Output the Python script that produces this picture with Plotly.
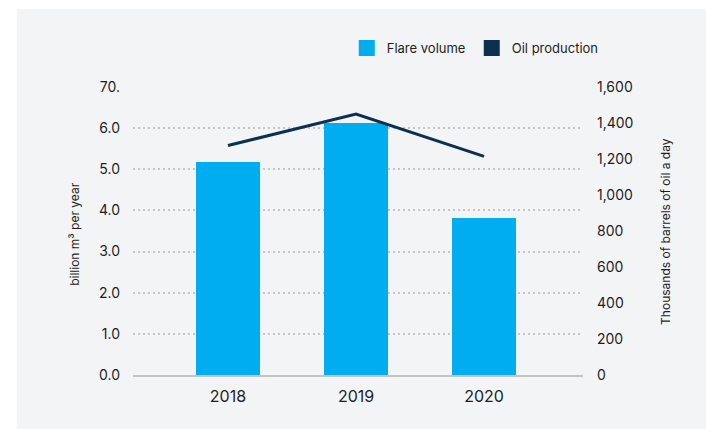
import plotly.graph_objects as go

# Annual data
years = [2018, 2019, 2020]
flare_volume = [5.18, 6.12, 3.82]          # billion m³ per year
oil_production = [1275, 1450, 1215]        # thousands of barrels per day

left_tickvals = [0, 1, 2, 3, 4, 5, 6, 7]
left_ticktext = ["0.0", "1.0", "2.0", "3.0", "4.0", "5.0", "6.0", "70."]
right_tickvals = [0, 200, 400, 600, 800, 1000, 1200, 1400, 1600]
right_ticktext = ["0", "200", "400", "600", "800", "1,000", "1,200", "1,400", "1,600"]

BAR_COLOR = "#00adee"
LINE_COLOR = "#0a3152"
PANEL = "#f3f4f6"
GRID = "#c4c6ca"
TEXT = "#1e1e1e"
FONT = "Inter, Lato, sans-serif"

fig = go.Figure()

fig.add_trace(go.Bar(
    x=years, y=flare_volume, width=0.5,
    marker=dict(color=BAR_COLOR, line=dict(width=0)),
    showlegend=False, name="Flare volume", yaxis="y",
))
fig.add_trace(go.Scatter(
    x=years, y=oil_production, mode="lines",
    line=dict(color=LINE_COLOR, width=3),
    showlegend=False, name="Oil production", yaxis="y2",
))

# Legend entries drawn as square swatches, one legend box each
for name, color, leg in [("Flare volume", BAR_COLOR, "legend"),
                         ("Oil production", LINE_COLOR, "legend2")]:
    fig.add_trace(go.Scatter(
        x=[None], y=[None], mode="markers", name=name, legend=leg,
        marker=dict(symbol="square", size=16, color=color),
    ))

legend_style = dict(
    orientation="h", xanchor="left", y=1.135, yanchor="middle",
    font=dict(size=13), bgcolor="rgba(0,0,0,0)", itemclick=False,
)

fig.update_layout(
    width=706, height=429,
    margin=dict(l=133, r=123, t=87, b=54),
    paper_bgcolor="white",
    plot_bgcolor="rgba(0,0,0,0)",
    font=dict(family=FONT, color=TEXT, size=13),
    bargap=0,
    xaxis=dict(
        range=[2017.258, 2020.773],
        tickvals=years, ticktext=[str(y) for y in years],
        tickfont=dict(size=16),
        showgrid=False, zeroline=False,
        showline=True, linecolor="#c3c3c3", linewidth=2,
        ticks="", ticklabelstandoff=6,
    ),
    yaxis=dict(
        range=[0, 7], tickvals=left_tickvals, ticktext=left_ticktext,
        showgrid=True, gridcolor=GRID, griddash="1.5px,3.5px", gridwidth=1.5,
        zeroline=False, ticks="", ticklabelstandoff=12,
        tickfont=dict(size=14),
    ),
    yaxis2=dict(
        range=[0, 1600], tickvals=right_tickvals, ticktext=right_ticktext,
        overlaying="y", side="right", showgrid=False, zeroline=False,
        ticks="", ticklabelstandoff=13, tickfont=dict(size=14),
    ),
    legend=dict(x=0.475, **legend_style),
    legend2=dict(x=0.7528, **legend_style),
    shapes=[dict(
        type="rect", xref="paper", yref="paper",
        x0=-0.258, x1=1.3, y0=-0.19, y1=1.271,
        fillcolor=PANEL, line=dict(width=0), layer="below",
    )],
    annotations=[
        dict(text="billion m³ per year", xref="paper", yref="paper",
             x=-0.129, y=0.49, xanchor="center", yanchor="middle",
             textangle=-90, showarrow=False, font=dict(size=12)),
        dict(text="Thousands of barrels of oil a day", xref="paper", yref="paper",
             x=1.182, y=0.5, xanchor="center", yanchor="middle",
             textangle=-90, showarrow=False, font=dict(size=12)),
    ],
)

fig.write_html("out.html")
